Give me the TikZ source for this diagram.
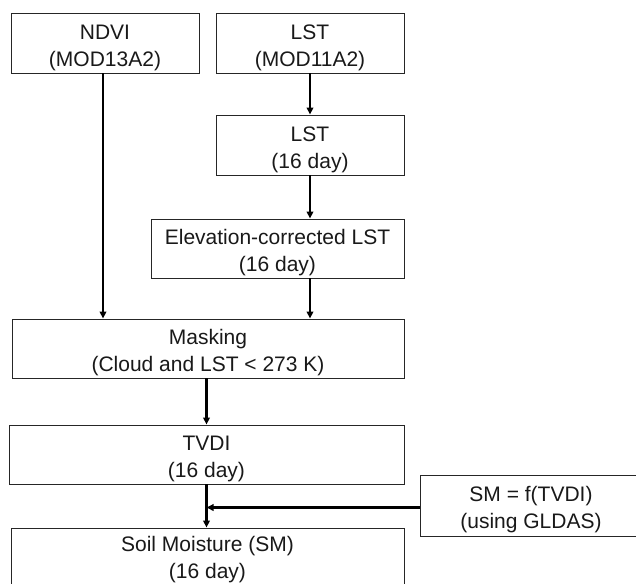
\documentclass[tikz,border=0pt]{standalone}
\usepackage{fontspec}
\setmainfont{Liberation Sans}
\usetikzlibrary{arrows.meta}
\begin{document}
\begin{tikzpicture}[x=1pt,y=-1pt,
  box/.style={draw=black!85, line width=0.9pt, inner sep=0pt},
  txt/.style={align=center, inner sep=0pt, font=\fontsize{21}{27}\selectfont, text=black!90},
  arr/.style={line width=2.1pt, -{Triangle[length=7pt,width=6.5pt]}}]
\useasboundingbox (0,0) rectangle (636,583);
\clip (0,0) rectangle (636,583);
\fill[white] (0,0) rectangle (636,583);
\node[box, minimum width=188pt, minimum height=60pt] (ndvi) at (105,43) {};
\node[box, minimum width=188pt, minimum height=60pt] (lst) at (310,43) {};
\node[box, minimum width=188pt, minimum height=60pt] (lst16) at (310,145) {};
\node[box, minimum width=253pt, minimum height=59pt] (elev) at (277.5,248.5) {};
\node[box, minimum width=392pt, minimum height=59pt] (mask) at (208,348.5) {};
\node[box, minimum width=395pt, minimum height=59pt] (tvdi) at (206.5,454.5) {};
\node[box, minimum width=220pt, minimum height=61pt] (smf) at (530,505.5) {};
\node[box, minimum width=393pt, minimum height=61pt] (sm) at (207.5,558.5) {};
\node[txt] (ndvi-t) at ([yshift=-4.5pt]ndvi.center) {NDVI\\(MOD13A2)};
\node[txt] (lst-t) at ([yshift=-4.5pt]lst.center) {LST\\(MOD11A2)};
\node[txt] (lst16-t) at ([yshift=-4.5pt]lst16.center) {LST\\(16 day)};
\node[txt] (elev-t) at ([yshift=-4.5pt]elev.center) {Elevation-corrected LST\\(16 day)};
\node[txt] (mask-t) at ([yshift=-4.5pt]mask.center) {Masking\\(Cloud and LST < 273 K)};
\node[txt] (tvdi-t) at ([yshift=-4.5pt]tvdi.center) {TVDI\\(16 day)};
\node[txt] (smf-t) at ([xshift=1pt,yshift=-4.5pt]smf.center) {SM = f(TVDI)\\(using GLDAS)};
\node[txt] (sm-t) at ([yshift=-1.5pt]sm.center) {Soil Moisture (SM)\\(16 day)};
\draw[arr] ([xshift=-2pt]ndvi.south) -- ([xshift=-2pt]ndvi.south |- mask.north);
\draw[arr] (lst.south) -- (lst16.north);
\draw[arr] (lst16.south) -- (lst16.south |- elev.north);
\draw[arr] (elev.south -| lst16.south) -- (lst16.south |- mask.north);
\draw[arr] (tvdi.north |- mask.south) -- (tvdi.north);
\draw[arr] (tvdi.south) -- (tvdi.south |- sm.north);
\draw[arr] ([yshift=-2pt]smf.west) -- ([yshift=-2pt]smf.west -| tvdi.south);
\end{tikzpicture}
\end{document}
